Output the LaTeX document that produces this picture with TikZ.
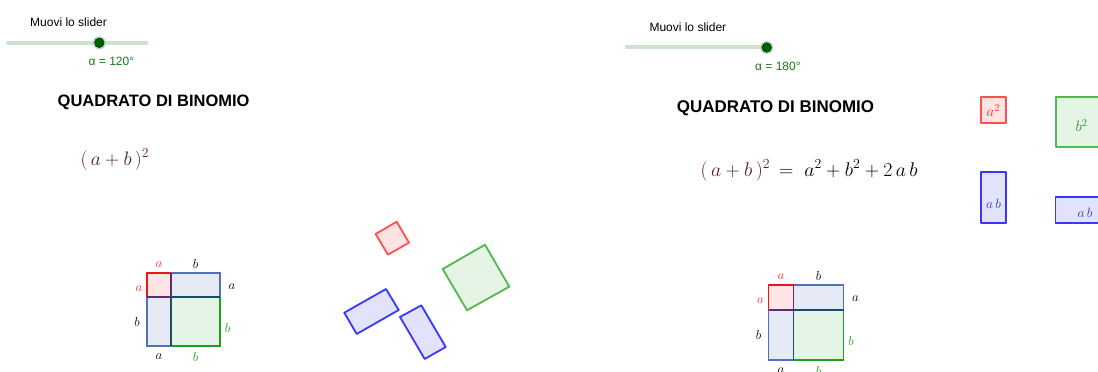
\RequirePackage{fix-cm}
\documentclass[tikz,border=0pt]{standalone}
\usepackage{fontspec}
\newfontfamily\arialfont{Liberation Sans}
\newcommand\fsz[1]{\fontsize{#1}{#1}\selectfont}
\definecolor{trackc}{RGB}{204,226,204}
\definecolor{halo}{RGB}{186,212,186}
\definecolor{thumbc}{RGB}{0,95,0}
\definecolor{alphac}{RGB}{25,120,25}
\definecolor{brownc}{RGB}{85,35,35}
\definecolor{redS}{RGB}{240,20,20}
\definecolor{redF}{RGB}{255,229,229}
\definecolor{blueS}{RGB}{80,112,192}
\definecolor{blueF}{RGB}{229,234,245}
\definecolor{greenS}{RGB}{30,160,30}
\definecolor{greenF}{RGB}{229,245,229}
\definecolor{purpS}{RGB}{90,45,110}
\definecolor{tealS}{RGB}{25,78,105}
\definecolor{redR}{RGB}{255,80,80}
\definecolor{redRF}{RGB}{255,226,226}
\definecolor{greenR}{RGB}{80,185,80}
\definecolor{greenRF}{RGB}{229,244,229}
\definecolor{blueR}{RGB}{55,55,255}
\definecolor{blueRF}{RGB}{226,226,250}
\definecolor{redT}{RGB}{255,45,45}
\definecolor{greenT}{RGB}{35,155,35}
\definecolor{blueT}{RGB}{40,70,170}
\tikzset{
  track/.style={line width=4pt,line cap=round,draw=trackc},
  thumbhalo/.style={circle,fill=halo,inner sep=0pt,minimum size=13pt},
  thumb/.style={circle,fill=thumbc,draw=thumbc!70!black,line width=0.6pt,inner sep=0pt,minimum size=9.5pt},
  uitext/.style={inner sep=0pt,font=\arialfont\fsz{12}},
  alphatext/.style={inner sep=0pt,font=\arialfont\fsz{12},text=alphac},
  titletext/.style={inner sep=0pt,font=\arialfont\bfseries\fsz{#1}},
  formula/.style={inner sep=0pt,font=\fsz{#1}},
  lab/.style={inner sep=0pt,font=\fsz{13}},
  piecelab/.style={inner sep=0pt,font=\fsz{#1}},
  rshape/.style={line width=1.8pt,line join=round},
  redpiece/.style={rshape,draw=redR,fill=redRF},
  greenpiece/.style={rshape,draw=greenR,fill=greenRF},
  bluepiece/.style={rshape,draw=blueR,fill=blueRF},
}
% static binomial square: name, x0, y0, a, b
\newcommand\binsq[5]{%
  \pgfmathsetmacro\xA{#2}\pgfmathsetmacro\yA{#3}%
  \pgfmathsetmacro\xB{#2+#4}\pgfmathsetmacro\yB{#3+#4}%
  \pgfmathsetmacro\xC{#2+#4+#5}\pgfmathsetmacro\yC{#3+#4+#5}%
  \pgfmathsetmacro\xM{#2+#4/2}\pgfmathsetmacro\xN{#2+#4+#5/2}%
  \pgfmathsetmacro\yM{#3+#4/2}\pgfmathsetmacro\yN{#3+#4+#5/2}%
  \fill[redF] (\xA,\yA) rectangle (\xB,\yB);
  \fill[blueF] (\xB,\yA) rectangle (\xC,\yB);
  \fill[blueF] (\xA,\yB) rectangle (\xB,\yC);
  \fill[greenF] (\xB,\yB) rectangle (\xC,\yC);
  \draw[blueS,line width=1.5pt] (\xB,\yA) -- (\xC,\yA) -- (\xC,\yB);
  \draw[blueS,line width=1.5pt] (\xA,\yB) -- (\xA,\yC) -- (\xB,\yC);
  \draw[greenS,line width=1.8pt] (\xC,\yB) -- (\xC,\yC) -- (\xB,\yC);
  \draw[tealS,line width=1.6pt] (\xC,\yB) -- (\xB,\yB) -- (\xB,\yC);
  \draw[redS,line width=1.8pt] (\xA,\yB) -- (\xA,\yA) -- (\xB,\yA);
  \draw[purpS,line width=1.6pt] (\xB,\yA) -- (\xB,\yB) -- (\xA,\yB);
  \node[lab,text=redT] (#1at) at (\xM,\yA-8.5) {$a$};
  \node[lab] (#1bt) at (\xN,\yA-9.5) {$b$};
  \node[lab] (#1ar) at (\xC+12,\yM+1.5) {$a$};
  \node[lab,text=redT] (#1al) at (\xA-8,\yM+3.5) {$a$};
  \node[lab] (#1bl) at (\xA-10,\yN) {$b$};
  \node[lab,text=greenT] (#1br) at (\xC+7.5,\yN+6) {$b$};
  \node[lab] (#1ab) at (\xM,\yC+11) {$a$};
  \node[lab,text=greenT] (#1bb) at (\xN,\yC+11) {$b$};
}
\begin{document}
\begin{tikzpicture}[x=1pt,y=-1pt]
\clip (0,0) rectangle (1098,372);
\fill[white] (0,0) rectangle (1098,372);

% ---------- left panel ----------
\node[uitext,anchor=base west] (lslidertitle) at (30,27) {Muovi lo slider};
\coordinate (ltrackA) at (8,42.7);
\coordinate (ltrackB) at (146.5,42.7);
\draw[track] (ltrackA) -- (ltrackB);
\node[thumbhalo] (lhalo) at (99.3,42.8) {};
\node[thumb] (lthumb) at (99.3,42.8) {};
\node[alphatext,anchor=base west] (lalpha) at (88.5,65.3) {α = 120°};
\node[titletext=16.5,anchor=base west] (ltitle) at (57.5,106.3) {QUADRATO DI BINOMIO};
\node[formula=19.5,anchor=base west,text=brownc] (lformula) at (80.5,165) {$(\,a+b\,)^{2}$};

\binsq{L}{147}{273}{24}{49}

% rotated pieces
\filldraw[redpiece] (375.7,234) -- (396.7,221.7) -- (409,242.7) -- (388,254.7) -- cycle;
\filldraw[greenpiece] (442.7,269) -- (485,244.7) -- (509.3,286.7) -- (467,310.3) -- cycle;
\filldraw[bluepiece] (344.3,312.7) -- (386,289) -- (398.7,310) -- (356.7,334) -- cycle;
\filldraw[bluepiece] (400,317) -- (421.3,305.3) -- (445.7,347) -- (424.7,359) -- cycle;

% ---------- right panel ----------
\node[uitext,anchor=base west] (rslidertitle) at (649.3,31.2) {Muovi lo slider};
\coordinate (rtrackA) at (626.7,47.3);
\coordinate (rtrackB) at (766.7,47.3);
\draw[track] (rtrackA) -- (rtrackB);
\node[thumbhalo] (rhalo) at (766.7,47.5) {};
\node[thumb] (rthumb) at (766.7,47.5) {};
\node[alphatext,anchor=base west] (ralpha) at (755,70) {α = 180°};
\node[titletext=16.95,anchor=base west] (rtitle) at (676.7,112.3) {QUADRATO DI BINOMIO};
\node[formula=19.8,anchor=base west] (rformula) at (700.5,176)
  {\textcolor{brownc}{$(\,a+b\,)^{2}$}\hspace{9pt}$=\;a^{2}+b^{2}+2\,a\,b$};

\binsq{R}{768.5}{285}{25}{50}

% placed pieces
\filldraw[redpiece] (980.7,96.7) rectangle (1006,122.7);
\node[piecelab=15,text=redT] (ra2) at (993.3,110.5) {$a^{2}$};
\filldraw[greenpiece] (1056,97) rectangle (1106,147.3);
\node[piecelab=15,text=greenT] (rb2) at (1081.5,125.5) {$b^{2}$};
\filldraw[bluepiece] (981,172.3) rectangle (1006.3,223.3);
\node[piecelab=13.5,text=blueT] (rab1) at (993.6,204) {$a\,b$};
\filldraw[bluepiece] (1055.5,197) rectangle (1106,223.3);
\node[piecelab=13.5,text=blueT] (rab2) at (1085,213) {$a\,b$};
\end{tikzpicture}
\end{document}
